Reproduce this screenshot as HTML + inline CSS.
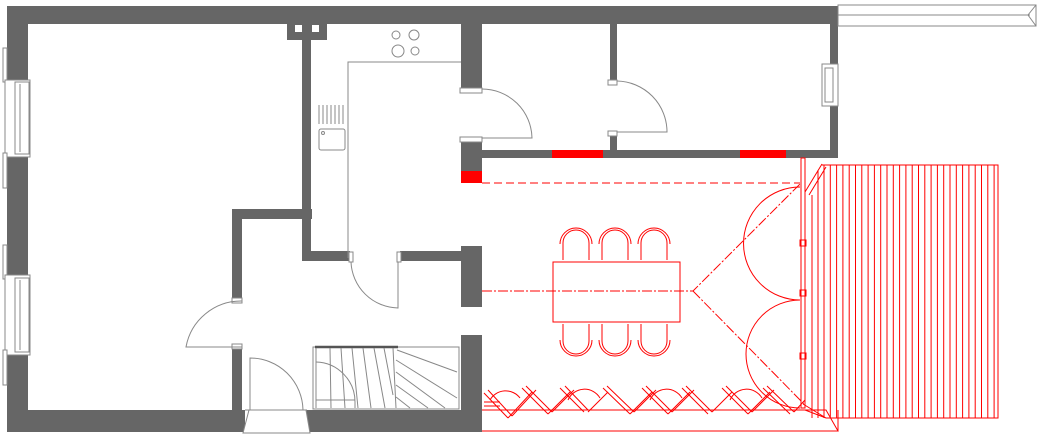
<!DOCTYPE html>
<html><head><meta charset="utf-8"><style>
html,body{margin:0;padding:0;background:#fff;width:1039px;height:437px;overflow:hidden}
svg{display:block}
</style></head><body>
<svg width="1039" height="437" viewBox="0 0 1039 437" xmlns="http://www.w3.org/2000/svg">
<g fill="#666" stroke="none">
<rect x="7" y="6" width="831" height="18"/>
<rect x="7" y="6" width="21" height="426"/>
<rect x="7" y="410" width="238" height="22"/>
<rect x="305" y="410" width="177" height="22"/>
<rect x="287" y="24" width="40" height="16"/>
<rect x="302" y="24" width="9" height="236"/>
<rect x="302" y="251" width="48" height="10"/>
<rect x="400" y="251" width="62" height="10"/>
<rect x="461" y="246" width="21" height="61"/>
<rect x="461" y="335" width="21" height="97"/>
<rect x="232" y="209" width="80" height="10"/>
<rect x="232" y="209" width="10" height="91"/>
<rect x="232" y="347" width="10" height="63"/>
<rect x="461" y="6" width="21" height="83"/>
<rect x="461" y="138" width="21" height="34"/>
<rect x="482" y="150" width="356" height="8"/>
<rect x="610" y="24" width="7" height="57"/>
<rect x="610" y="132" width="7" height="20"/>
<rect x="830" y="6" width="8" height="152"/>
</g>
<g fill="#fff" stroke="none">
<rect x="295" y="25" width="7" height="7"/><rect x="312" y="25" width="7" height="7"/>
<rect x="462" y="307" width="19" height="28"/>
</g>
<g fill="#f00">
<rect x="461" y="171" width="21" height="12"/>
<rect x="552" y="150" width="51" height="8"/>
<rect x="740" y="150" width="46" height="8"/>
</g>
<g fill="#fff" stroke="#888" stroke-width="1">
<rect x="3" y="48" width="4" height="34"/><rect x="5" y="80" width="25" height="77"/><rect x="15" y="82" width="14" height="72"/><line x1="20" y1="84" x2="20" y2="152"/>
<rect x="3" y="153" width="4" height="35"/>
<rect x="3" y="245" width="4" height="34"/><rect x="5" y="275" width="25" height="80"/><rect x="15" y="278" width="14" height="74"/><line x1="20" y1="280" x2="20" y2="350"/>
<rect x="3" y="350" width="4" height="35"/>
<rect x="822" y="64" width="16" height="42"/><rect x="825" y="68" width="8" height="34"/>
<path d="M838 5 H1036 V26 H838 Z"/><path d="M838 15 H1030 M1036 5 L1028 15 L1036 26" fill="none"/>
<rect x="460" y="88" width="22" height="5"/><rect x="460" y="137" width="22" height="5"/>
<rect x="608" y="80" width="9" height="5"/><rect x="608" y="131" width="9" height="5"/>
<rect x="349" y="252" width="4" height="10"/><rect x="397" y="252" width="4" height="10"/>
<rect x="232" y="298" width="10" height="5"/><rect x="232" y="344" width="10" height="5"/>
<circle cx="396" cy="35" r="4"/><circle cx="414" cy="35" r="5"/><circle cx="398" cy="51" r="6"/><circle cx="415" cy="51" r="4"/>
<rect x="319" y="129" width="26" height="21" rx="2"/><circle cx="323" cy="133" r="1.5"/>
<path d="M249 410 H306 L310 433 H243 Z"/>
</g>
<g fill="none" stroke="#888" stroke-width="1">
<path d="M348 258 V62 H461"/>
<path d="M319 105 V124 M323 105 V124 M327 105 V124 M331 105 V124 M335 105 V124 M339 105 V124 M343 105 V124"/>
<path d="M482 138 H532 A50 50 0 0 0 482 89"/>
<path d="M617 132 H667 A51 51 0 0 0 617 81"/>
<path d="M398 262 V308 A48 48 0 0 1 351 262"/>
<path d="M242 347 H186 A56 56 0 0 1 242 301"/>
<path d="M250 410 V358 A53 53 0 0 1 303 410"/>
<line x1="245" y1="410" x2="307" y2="410"/>
<rect x="313" y="347" width="146" height="62"/>
<line x1="315" y1="347" x2="398" y2="347" stroke="#555" stroke-width="2.5"/>
<line x1="393" y1="348" x2="396" y2="408"/>
<path d="M316 348 V408 M330 348 L331 408 M341 348 L345 408 M352 348 L358 408 M363 348 L371 408 M374 348 L385 408 M384 348 L393 395"/>
<path d="M316 362 A40 40 0 0 1 355 402 V408 M316 400 H355"/>
<path d="M397 350 L457 372 M396 360 L457 398 M396 372 L445 408 M396 385 L428 408 M396 397 L410 408"/>
</g>
<g fill="none" stroke="#f00" stroke-width="1">
<line x1="482" y1="183" x2="800" y2="183" stroke-dasharray="8,4"/>
<path d="M482 291 H693 L800 184 M693 291 L805 405" stroke-dasharray="10,2,2,2"/>
<rect x="553" y="262" width="127" height="60"/>
<path d="M563 260 V243 A13 13 0 0 1 589 243 V260 M560 244 A16 16 0 0 1 592 244"/>
<path d="M602 260 V243 A13 13 0 0 1 628 243 V260 M599 244 A16 16 0 0 1 631 244"/>
<path d="M641 260 V243 A13 13 0 0 1 667 243 V260 M638 244 A16 16 0 0 1 670 244"/>
<path d="M563 324 V341 A13 13 0 0 0 589 341 V324 M560 340 A16 16 0 0 0 592 340"/>
<path d="M602 324 V341 A13 13 0 0 0 628 341 V324 M599 340 A16 16 0 0 0 631 340"/>
<path d="M641 324 V341 A13 13 0 0 0 667 341 V324 M638 340 A16 16 0 0 0 670 340"/>
<path d="M800 187 A50 50 0 0 0 800 300 M800 300 A52 52 0 0 0 800 408"/>
<rect x="801" y="158" width="4" height="250"/>
<rect x="800" y="240" width="6" height="6"/><rect x="800" y="290" width="6" height="6"/><rect x="800" y="353" width="6" height="6"/>
<path d="M805 192 L822 164 M809 195 L826 167"/>
<path d="M822 165 H998 V418 H826"/>
<path d="M482 410 H826 L838 431 H482 M838 410 V431 M805 410 L826 410"/>
<path d="M805 410 L826 418 M803 404 L826 418"/>
</g>
<g stroke="#f00" stroke-width="1" fill="none">
<path d="M812 195 V418 M818 170 V418 M824 165 V418 M830.3 165 V418 M836.6 165 V418 M842.9 165 V418 M849.2 165 V418 M855.5 165 V418 M861.8 165 V418 M868.1 165 V418 M874.4 165 V418 M880.7 165 V418 M887 165 V418 M893.3 165 V418 M899.6 165 V418 M905.9 165 V418 M912.2 165 V418 M918.5 165 V418 M924.8 165 V418 M931.1 165 V418 M937.4 165 V418 M943.7 165 V418 M950 165 V418 M956.3 165 V418 M962.6 165 V418 M968.9 165 V418 M975.2 165 V418 M981.5 165 V418 M987.8 165 V418 M994.1 165 V418"/>
<path d="M484 393 L508 418 M488 390 L512 416 M522 388 L548 414 M526 386 L552 412 M560 388 L584 412 M565 386 L588 410 M603 388 L630 414 M607 386 L634 412 M642 388 L668 414 M646 386 L672 412 M682 388 L708 414 M686 386 L712 412 M722 388 L748 414 M726 386 L752 412 M763 388 L790 414 M767 386 L794 412"/>
<path d="M508 418 L532 392 M512 416 L536 390 M548 414 L570 392 M552 412 L574 390 M588 412 L608 392 M630 414 L652 392 M634 412 L656 390 M668 414 L690 392 M672 412 L694 390 M712 412 L732 392 M748 414 L770 392 M752 412 L774 390 M794 412 L805 400"/>
<path d="M490 400 A18 18 0 0 1 520 398 M568 400 A18 18 0 0 1 600 398 M650 400 A18 18 0 0 1 682 398 M730 400 A18 18 0 0 1 762 398"/>
<path d="M484 402 L500 402 M484 406 L500 406"/>
</g>
</svg>
</body></html>
